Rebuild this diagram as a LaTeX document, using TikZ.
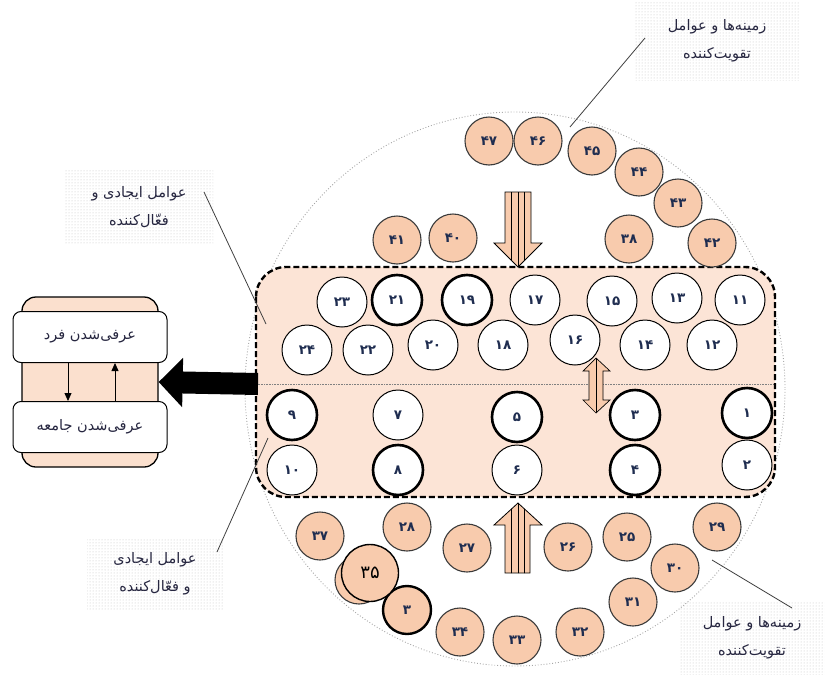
\documentclass[tikz,border=0pt]{standalone}
\usepackage{fontspec}
\usetikzlibrary{arrows.meta,patterns}
\TeXXeTstate=1
\newfontfamily\arabicfont[Script=Arabic]{DejaVu Sans}
\newfontfamily\numfont{DejaVu Sans}
\definecolor{peach}{HTML}{F8CBAD}
\definecolor{lightpeach}{HTML}{FCE4D6}
\definecolor{boxpeach}{HTML}{FBE0CE}
\definecolor{numcol}{HTML}{1F2D50}
\definecolor{textcol}{HTML}{262640}
\definecolor{pborder}{HTML}{3A3A3A}
\begin{document}
\begin{tikzpicture}[x=1pt,y=-1pt,
  wc/.style={circle,draw=black,line width=1pt,fill=white,minimum size=50pt,inner sep=0pt,
    font=\numfont\bfseries\fontsize{13.5}{13.5}\selectfont,text=numcol},
  wcb/.style={wc,line width=2.6pt},
  pc/.style={circle,draw=pborder,line width=1.1pt,fill=peach,minimum size=48pt,inner sep=0pt,
    font=\numfont\bfseries\fontsize{13.5}{13.5}\selectfont,text=numcol},
  lbl/.style={pattern=dots,pattern color=gray!50,align=center,inner sep=0pt,
    font=\arabicfont\fontsize{14.5}{28}\selectfont,text=textcol},
  callout/.style={line width=0.8pt,draw=black!75},
  stripe/.style={line width=0.7pt},
  lbox/.style={draw=black,line width=1pt,fill=white,rounded corners=8pt,minimum width=154pt,
    minimum height=51pt,font=\arabicfont\fontsize{14.5}{16}\selectfont,text=textcol},
  thinarrow/.style={line width=0.8pt,-{Triangle[length=8pt,width=7pt]}}
]
\useasboundingbox (0,0) rectangle (825,675);

% outer dotted ellipse
\draw[gray!70,dotted,line width=0.9pt] (515,389) ellipse [x radius=270,y radius=277];

% label boxes
\node[lbl,minimum width=165pt,minimum height=78pt] (Ltr) at (717,41)
  {\beginR زمینه‌ها و عوامل\endR\\\beginR تقویت‌کننده\endR};
\node[lbl,minimum width=148pt,minimum height=75pt] (Ltl) at (139,207)
  {\beginR عوامل ایجادی و\endR\\\beginR فعّال‌کننده\endR};
\node[lbl,minimum width=136pt,minimum height=72pt] (Lbl) at (155,574)
  {\beginR عوامل ایجادی\endR\\\beginR و فعّال‌کننده\endR};
\node[lbl,minimum width=145pt,minimum height=72pt] (Lbr) at (752,638)
  {\beginR زمینه‌ها و عوامل\endR\\\beginR تقویت‌کننده\endR};

% central rounded region
\fill[lightpeach,rounded corners=30pt] (256,267) rectangle (775,497);
\draw[gray,densely dotted,line width=0.6pt] (256,384) -- (775,384);
\draw[line width=2.4pt,dash pattern=on 6pt off 3pt,rounded corners=30pt] (256,267) rectangle (775,497);

% callout lines
\coordinate (a1) at (645,38);  \coordinate (a2) at (570,127);
\coordinate (b1) at (204,192); \coordinate (b2) at (266,324);
\coordinate (c1) at (217,552); \coordinate (c2) at (268,438);
\coordinate (d1) at (712,560); \coordinate (d2) at (792,608);
\draw[callout] (a1) -- (a2);
\draw[callout] (b1) -- (b2);
\draw[callout] (c1) -- (c2);
\draw[callout] (d1) -- (d2);

% inner white circles
\node[wc]  (n23) at (342,302) {۲۳};
\node[wcb] (n21) at (397,300) {۲۱};
\node[wcb] (n19) at (467,300) {۱۹};
\node[wc]  (n17) at (535,300) {۱۷};
\node[wc]  (n15) at (612,301) {۱۵};
\node[wc]  (n13) at (677,298) {۱۳};
\node[wc]  (n11) at (740,300) {۱۱};
\node[wc]  (n24) at (307,350) {۲۴};
\node[wc]  (n22) at (368,350) {۲۲};
\node[wc]  (n20) at (433,345) {۲۰};
\node[wc]  (n18) at (503,345) {۱۸};
\node[wc]  (n16) at (575,340) {۱۶};
\node[wc]  (n14) at (645,345) {۱۴};
\node[wc]  (n12) at (712,345) {۱۲};
\node[wcb] (n9)  at (292,415) {۹};
\node[wc]  (n7)  at (398,415) {۷};
\node[wcb] (n5)  at (517,417) {۵};
\node[wcb] (n3)  at (635,415) {۳};
\node[wcb] (n1)  at (747,413) {۱};
\node[wc]  (n10) at (292,470) {۱۰};
\node[wcb] (n8)  at (398,470) {۸};
\node[wc]  (n6)  at (517,470) {۶};
\node[wcb] (n4)  at (635,470) {۴};
\node[wc]  (n2)  at (747,465) {۲};

% outer peach circles, top
\node[pc] (p47) at (489,141) {۴۷};
\node[pc] (p46) at (538,141) {۴۶};
\node[pc] (p45) at (592,151) {۴۵};
\node[pc] (p44) at (639,172) {۴۴};
\node[pc] (p43) at (678,203) {۴۳};
\node[pc] (p42) at (712,243) {۴۲};
\node[pc] (p38) at (629,239) {۳۸};
\node[pc] (p40) at (453,238) {۴۰};
\node[pc] (p41) at (397,240) {۴۱};

% outer peach circles, bottom
\node[pc] (p37) at (320,536) {۳۷};
\node[pc] (p28) at (407,527) {۲۸};
\node[pc] (p27) at (467,548) {۲۷};
\node[pc] (p26) at (568,547) {۲۶};
\node[pc] (p25) at (627,537) {۲۵};
\node[pc] (p29) at (717,527) {۲۹};
\node[pc] (p30) at (675,568) {۳۰};
\node[pc] (p31) at (633,602) {۳۱};
\node[pc] (p32) at (580,632) {۳۲};
\node[pc] (p33) at (517,640) {۳۳};
\node[pc] (p34) at (460,632) {۳۴};
\node[pc] (phid) at (359,580) {};
\node[pc,draw=black,line width=2.4pt] (p3) at (407,610) {۳};
\node[pc,draw=black,line width=1.4pt,minimum size=57pt,font=\numfont\fontsize{18}{18}\selectfont,text=black] (p35) at (370,573) {۳۵};

% striped arrows
\begin{scope}
  \clip (505,192) -- (531,192) -- (531,243) -- (542,243) -- (518,267) -- (494,243) -- (505,243) -- cycle;
  \fill[peach] (490,190) rectangle (546,270);
  \foreach \sx in {511.5,518,524.5} \draw[stripe] (\sx,190) -- (\sx,270);
\end{scope}
\draw[line width=0.8pt] (505,192) -- (531,192) -- (531,243) -- (542,243) -- (518,267) -- (494,243) -- (505,243) -- cycle;

\begin{scope}
  \clip (505,573) -- (530,573) -- (530,525) -- (542,525) -- (518,503) -- (494,525) -- (505,525) -- cycle;
  \fill[peach] (490,500) rectangle (546,576);
  \foreach \sx in {511.5,518,524.5} \draw[stripe] (\sx,500) -- (\sx,576);
\end{scope}
\draw[line width=0.8pt] (505,573) -- (530,573) -- (530,525) -- (542,525) -- (518,503) -- (494,525) -- (505,525) -- cycle;

\begin{scope}
  \clip (596,358) -- (610,371) -- (603,371) -- (603,400) -- (610,400) -- (596,413) -- (583,400) -- (589,400) -- (589,371) -- (583,371) -- cycle;
  \fill[peach] (580,355) rectangle (612,416);
  \draw[stripe] (596,355) -- (596,416);
\end{scope}
\draw[line width=0.7pt] (596,358) -- (610,371) -- (603,371) -- (603,400) -- (610,400) -- (596,413) -- (583,400) -- (589,400) -- (589,371) -- (583,371) -- cycle;

% left box
\node[draw=black,line width=1.3pt,fill=boxpeach,rounded corners=14pt,minimum width=136pt,minimum height=170pt] (LB) at (90,382) {};
\node[lbox] (T) at (90,337) {\beginR عرفی‌شدن فرد\endR};
\node[lbox] (J) at (90,427) {\beginR عرفی‌شدن جامعه\endR};
\coordinate (xd) at (68,0);
\coordinate (xu) at (115,0);
\draw[thinarrow] (T.south -| xd) -- (J.north -| xd);
\draw[thinarrow] (J.north -| xu) -- (T.south -| xu);

% big black arrow
\coordinate (bs) at (258,384);
\draw[line width=22pt,-{Triangle[length=24pt,width=48pt]}] (bs) -- (LB.east);
\end{tikzpicture}
\end{document}
